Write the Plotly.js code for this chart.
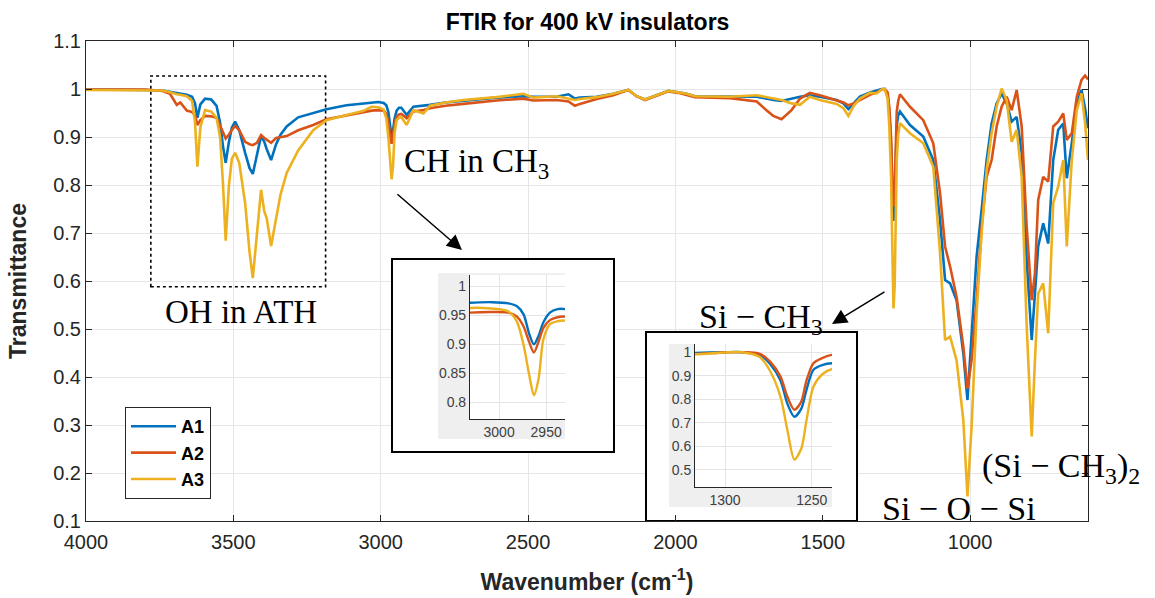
<!DOCTYPE html>
<html>
<head>
<meta charset="utf-8">
<script src="https://cdn.plot.ly/plotly-3.0.1.min.js"></script>
<style>html,body{margin:0;padding:0;background:#fff;}#chart{width:1155px;height:598px;}</style>
</head>
<body>
<div id="chart"></div>
<script>
// Wavenumber grid (cm^-1) shared by the three spectra
const wavenumber = [
  4000, 3900, 3800, 3740, 3715, 3700, 3692, 3680, 3658, 3640,
  3630, 3622, 3612, 3596, 3575, 3557, 3545, 3535, 3526, 3515,
  3505, 3494, 3480, 3460, 3445, 3434, 3420, 3406, 3395, 3387,
  3372, 3355, 3340, 3319, 3280, 3229, 3184, 3116, 3060, 3031,
  3008, 2990, 2981, 2974, 2968, 2963, 2958, 2953, 2946, 2938,
  2930, 2912, 2889, 2855, 2833, 2780, 2720, 2607, 2516, 2482,
  2403, 2363, 2341, 2324, 2267, 2211, 2160, 2132, 2103, 2064,
  2024, 1990, 1962, 1934, 1815, 1724, 1690, 1668, 1640, 1606,
  1577, 1544, 1510, 1453, 1430, 1413, 1395, 1374, 1340, 1317,
  1300, 1290, 1280, 1274, 1268, 1264, 1260, 1256, 1253, 1249,
  1244, 1238, 1204, 1159, 1125, 1102, 1085, 1068, 1046, 1023,
  1009, 995, 978, 961, 944, 927, 910, 893, 876, 859,
  842, 825, 808, 791, 780, 769, 752, 735, 718, 701,
  684, 672, 655, 638, 622, 610, 600
];
const A1 = [
  0.999, 0.999, 0.998, 0.997, 0.994, 0.992, 0.991, 0.990, 0.988, 0.984,
  0.970, 0.940, 0.968, 0.980, 0.978, 0.965, 0.930, 0.880, 0.846, 0.890,
  0.920, 0.932, 0.914, 0.867, 0.835, 0.823, 0.860, 0.902, 0.890, 0.875,
  0.852, 0.885, 0.905, 0.922, 0.941, 0.950, 0.958, 0.966, 0.970, 0.972,
  0.973, 0.971, 0.966, 0.952, 0.918, 0.900, 0.915, 0.938, 0.955, 0.961,
  0.961, 0.946, 0.963, 0.965, 0.967, 0.972, 0.976, 0.982, 0.985, 0.984,
  0.984, 0.989, 0.980, 0.982, 0.984, 0.990, 0.998, 0.985, 0.978, 0.987,
  0.996, 0.993, 0.990, 0.985, 0.984, 0.984, 0.980, 0.977, 0.975, 0.980,
  0.984, 0.987, 0.984, 0.977, 0.970, 0.958, 0.970, 0.984, 0.993, 0.997,
  1.000, 1.000, 0.990, 0.950, 0.880, 0.780, 0.725, 0.760, 0.840, 0.925,
  0.945, 0.953, 0.925, 0.901, 0.852, 0.727, 0.602, 0.595, 0.560, 0.449,
  0.352, 0.477, 0.651, 0.748, 0.852, 0.928, 0.970, 0.991, 0.970, 0.932,
  0.942, 0.866, 0.644, 0.477, 0.574, 0.672, 0.720, 0.678, 0.852, 0.915,
  0.928, 0.814, 0.887, 0.970, 0.998, 0.960, 0.918
];
const A2 = [
  0.999, 0.999, 0.999, 0.996, 0.990, 0.975, 0.967, 0.972, 0.955, 0.952,
  0.945, 0.925, 0.935, 0.944, 0.943, 0.940, 0.925, 0.910, 0.897, 0.905,
  0.915, 0.923, 0.914, 0.890, 0.885, 0.883, 0.888, 0.904, 0.898, 0.895,
  0.888, 0.898, 0.900, 0.902, 0.914, 0.925, 0.937, 0.945, 0.951, 0.955,
  0.956, 0.955, 0.948, 0.931, 0.904, 0.886, 0.905, 0.928, 0.942, 0.947,
  0.948, 0.939, 0.953, 0.956, 0.960, 0.965, 0.969, 0.976, 0.980, 0.976,
  0.977, 0.974, 0.965, 0.969, 0.979, 0.987, 0.998, 0.985, 0.977, 0.986,
  0.995, 0.992, 0.988, 0.983, 0.981, 0.974, 0.955, 0.944, 0.937, 0.956,
  0.980, 0.992, 0.987, 0.976, 0.972, 0.966, 0.970, 0.977, 0.988, 0.993,
  0.999, 1.000, 0.993, 0.960, 0.896, 0.810, 0.755, 0.790, 0.880, 0.953,
  0.975, 0.989, 0.963, 0.935, 0.887, 0.783, 0.672, 0.630, 0.567, 0.463,
  0.376, 0.435, 0.560, 0.713, 0.817, 0.852, 0.922, 0.963, 0.984, 0.956,
  0.998, 0.922, 0.713, 0.560, 0.616, 0.769, 0.817, 0.807, 0.922, 0.932,
  0.949, 0.894, 0.908, 0.984, 1.019, 1.028, 1.020
];
const A3 = [
  0.998, 0.998, 0.998, 0.997, 0.993, 0.990, 0.989, 0.988, 0.985, 0.975,
  0.930, 0.838, 0.920, 0.956, 0.953, 0.940, 0.900, 0.800, 0.684, 0.800,
  0.855, 0.867, 0.846, 0.762, 0.660, 0.606, 0.692, 0.790, 0.745, 0.731,
  0.673, 0.734, 0.780, 0.825, 0.872, 0.914, 0.935, 0.946, 0.954, 0.963,
  0.962, 0.957, 0.939, 0.899, 0.847, 0.812, 0.841, 0.908, 0.935, 0.940,
  0.941, 0.925, 0.956, 0.949, 0.965, 0.972, 0.977, 0.983, 0.990, 0.982,
  0.985, 0.980, 0.977, 0.979, 0.983, 0.990, 0.998, 0.985, 0.978, 0.987,
  0.996, 0.993, 0.990, 0.985, 0.984, 0.987, 0.983, 0.980, 0.977, 0.970,
  0.967, 0.984, 0.977, 0.969, 0.960, 0.944, 0.965, 0.980, 0.992, 0.991,
  0.999, 1.000, 0.980, 0.920, 0.810, 0.668, 0.543, 0.590, 0.710, 0.853,
  0.905, 0.929, 0.908, 0.887, 0.838, 0.658, 0.477, 0.484, 0.435, 0.310,
  0.151, 0.297, 0.533, 0.699, 0.831, 0.908, 0.963, 1.001, 0.977, 0.890,
  0.915, 0.817, 0.505, 0.276, 0.435, 0.574, 0.595, 0.491, 0.762, 0.797,
  0.852, 0.672, 0.852, 0.956, 0.991, 0.930, 0.852
];
const seriesNames = ['A1', 'A2', 'A3'];
const seriesValues = [A1, A2, A3];
const seriesColors = ['#0072BD', '#D95319', '#EDB120'];

// tick labels
const mainXTicks = [4000, 3500, 3000, 2500, 2000, 1500, 1000];
const mainYTicks = [0.1, 0.2, 0.3, 0.4, 0.5, 0.6, 0.7, 0.8, 0.9, 1, 1.1];
const mainYTickText = ['0.1', '0.2', '0.3', '0.4', '0.5', '0.6', '0.7', '0.8', '0.9', '1', '1.1'];
const chXTicks = [3000, 2950];
const chYTicks = [0.8, 0.85, 0.9, 0.95, 1];
const chYTickText = ['0.8', '0.85', '0.9', '0.95', '1'];
const siXTicks = [1300, 1250];
const siYTicks = [0.5, 0.6, 0.7, 0.8, 0.9, 1];
const siYTickText = ['0.5', '0.6', '0.7', '0.8', '0.9', '1'];

const SANS = 'Liberation Sans, Arial, sans-serif';
const SERIF = 'Liberation Serif, Times New Roman, serif';

const traces = [];
seriesNames.forEach((name, i) => {
  traces.push({
    x: wavenumber, y: seriesValues[i], name: name, type: 'scatter', mode: 'lines',
    line: {color: seriesColors[i], width: 2.6}, xaxis: 'x', yaxis: 'y', hoverinfo: 'skip'
  });
});
seriesNames.forEach((name, i) => {
  traces.push({
    x: wavenumber, y: seriesValues[i], name: name, type: 'scatter', mode: 'lines', showlegend: false,
    line: {color: seriesColors[i], width: 2.4, shape: 'spline', smoothing: 0.8}, xaxis: 'x2', yaxis: 'y2', hoverinfo: 'skip'
  });
});
seriesNames.forEach((name, i) => {
  traces.push({
    x: wavenumber, y: seriesValues[i], name: name, type: 'scatter', mode: 'lines', showlegend: false,
    line: {color: seriesColors[i], width: 2.4, shape: 'spline', smoothing: 0.8}, xaxis: 'x3', yaxis: 'y3', hoverinfo: 'skip'
  });
});

const insetAxis = {
  showgrid: true, gridcolor: '#e4e4e4', gridwidth: 1, zeroline: false,
  showline: true, linecolor: '#262626', linewidth: 1, ticks: '', mirror: false,
  tickfont: {family: SANS, size: 14, color: '#404040'}, tickmode: 'array'
};

const layout = {
  width: 1155, height: 598,
  margin: {l: 86, r: 67, t: 41, b: 77, pad: 0},
  paper_bgcolor: '#ffffff', plot_bgcolor: '#ffffff',
  font: {family: SANS, color: '#262626'},
  title: {
    text: '<b>FTIR for 400 kV insulators</b>', xref: 'container', x: 0.5087, xanchor: 'center',
    yref: 'container', y: 0.963, yanchor: 'middle', font: {family: SANS, size: 23, color: '#000000'}
  },
  showlegend: true,
  legend: {
    x: 0.0389, y: 0.2375, xanchor: 'left', yanchor: 'top',
    bgcolor: '#ffffff', bordercolor: '#262626', borderwidth: 1,
    font: {family: SANS, size: 18, color: '#000000', weight: 'bold'},
    itemwidth: 45, tracegroupgap: 0
  },
  xaxis: {
    domain: [0, 1], anchor: 'y', range: [4000, 600], tickmode: 'array', tickvals: mainXTicks,
    showgrid: true, gridcolor: '#e6e6e6', zeroline: false,
    showline: true, linecolor: '#262626', linewidth: 1, mirror: 'ticks',
    ticks: 'inside', ticklen: 6, tickcolor: '#262626', ticklabelstandoff: 3,
    tickfont: {family: SANS, size: 20, color: '#262626'},
    title: {text: '<b>Wavenumber (cm<sup>-1</sup>)</b>', font: {family: SANS, size: 23, color: '#262626'}, standoff: 21}
  },
  yaxis: {
    domain: [0, 1], anchor: 'x', range: [0.1, 1.1], tickmode: 'array', tickvals: mainYTicks, ticktext: mainYTickText,
    showgrid: true, gridcolor: '#e6e6e6', zeroline: false,
    showline: true, linecolor: '#262626', linewidth: 1, mirror: 'ticks',
    ticks: 'inside', ticklen: 6, tickcolor: '#262626',
    tickfont: {family: SANS, size: 20, color: '#262626'},
    title: {text: '<b>Transmittance</b>', font: {family: SANS, size: 23, color: '#262626'}, standoff: 20}
  },
  xaxis2: Object.assign({}, insetAxis, {domain: [0.3832, 0.4780], anchor: 'y2', range: [3031, 2930], tickvals: chXTicks}),
  yaxis2: Object.assign({}, insetAxis, {domain: [0.2125, 0.5125], anchor: 'x2', range: [0.771, 1.02], tickvals: chYTicks, ticktext: chYTickText}),
  xaxis3: Object.assign({}, insetAxis, {domain: [0.6078, 0.7445], anchor: 'y3', range: [1317.3, 1238.3], tickvals: siXTicks}),
  yaxis3: Object.assign({}, insetAxis, {domain: [0.0708, 0.3688], anchor: 'x3', range: [0.426, 1.035], tickvals: siYTicks, ticktext: siYTickText}),
  shapes: [
    // dotted box around OH region
    {type: 'rect', xref: 'x', yref: 'y', x0: 3780, x1: 3187, y0: 0.588, y1: 1.027,
     line: {color: '#000000', width: 1.6, dash: 'dot'}, fillcolor: 'rgba(0,0,0,0)', layer: 'between'},
    // CH inset frame
    {type: 'rect', xref: 'x', yref: 'y', x0: 2961.7, x1: 2208.4, y0: 0.2438, y1: 0.6458,
     line: {color: '#000000', width: 2}, fillcolor: '#ffffff', layer: 'between'},
    {type: 'rect', xref: 'x', yref: 'y', x0: 2805.6, x1: 2374.6, y0: 0.2708, y1: 0.6167,
     line: {width: 0}, fillcolor: '#efefef', layer: 'between'},
    {type: 'rect', xref: 'x', yref: 'y', x0: 2697.0, x1: 2374.6, y0: 0.3125, y1: 0.6125,
     line: {width: 0}, fillcolor: '#ffffff', layer: 'between'},
    // Si-CH3 inset frame
    {type: 'rect', xref: 'x', yref: 'y', x0: 2099.8, x1: 1383.8, y0: 0.1, y1: 0.4938,
     line: {color: '#000000', width: 2}, fillcolor: '#ffffff', layer: 'between'},
    {type: 'rect', xref: 'x', yref: 'y', x0: 2021.8, x1: 1468.7, y0: 0.1292, y1: 0.4688,
     line: {width: 0}, fillcolor: '#efefef', layer: 'between'},
    {type: 'rect', xref: 'x', yref: 'y', x0: 1933.5, x1: 1468.7, y0: 0.1708, y1: 0.4688,
     line: {width: 0}, fillcolor: '#ffffff', layer: 'between'}
  ],
  annotations: [
    {text: 'OH in ATH', xref: 'paper', yref: 'paper', x: 0.0768, y: 0.4354, xanchor: 'left', yanchor: 'middle',
     showarrow: false, font: {family: SERIF, size: 33, color: '#000000'}},
    {text: 'CH in CH<sub>3</sub>', xref: 'paper', yref: 'paper', x: 0.3154, y: 0.745, xanchor: 'left', yanchor: 'middle',
     showarrow: false, font: {family: SERIF, size: 33, color: '#000000'}},
    {text: 'Si − CH<sub>3</sub>', xref: 'paper', yref: 'paper', x: 0.6098, y: 0.42, xanchor: 'left', yanchor: 'middle',
     showarrow: false, font: {family: SERIF, size: 34, color: '#000000'}},
    {text: '(Si − CH<sub>3</sub>)<sub>2</sub>', xref: 'paper', yref: 'paper', x: 0.892, y: 0.11, xanchor: 'left', yanchor: 'middle',
     showarrow: false, font: {family: SERIF, size: 34, color: '#000000'}},
    {text: 'Si − O − Si', xref: 'paper', yref: 'paper', x: 0.7924, y: 0.026, xanchor: 'left', yanchor: 'middle',
     showarrow: false, font: {family: SERIF, size: 34, color: '#000000'}},
    // arrows
    {text: '', xref: 'paper', yref: 'paper', x: 0.3752, y: 0.5646, ax: -66, ay: -57, showarrow: true,
     arrowhead: 2, arrowsize: 2, arrowwidth: 1.5, arrowcolor: '#000000', standoff: 0},
    {text: '', xref: 'paper', yref: 'paper', x: 0.7445, y: 0.4104, ax: 54, ay: -33, showarrow: true,
     arrowhead: 2, arrowsize: 2, arrowwidth: 1.5, arrowcolor: '#000000', standoff: 0}
  ]
};

Plotly.newPlot('chart', traces, layout, {displayModeBar: false, staticPlot: true});
</script>
</body>
</html>
